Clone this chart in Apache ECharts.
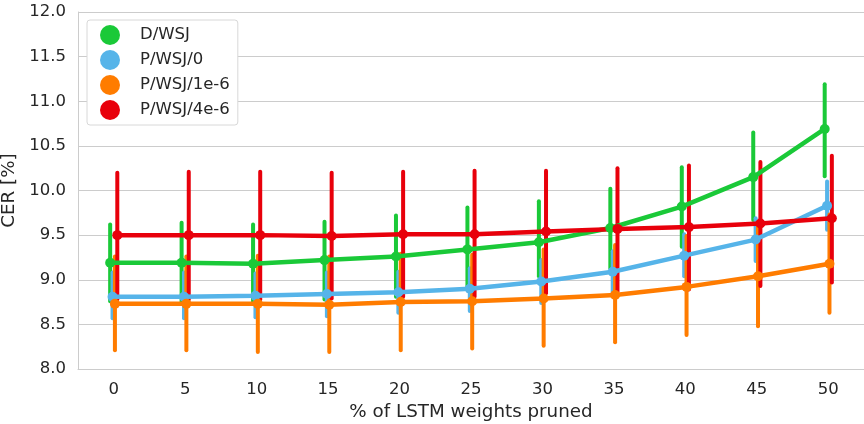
<!DOCTYPE html>
<html>
<head>
<meta charset="utf-8">
<script src="https://cdn.jsdelivr.net/npm/echarts@6/dist/echarts.min.js"></script>
<style>html,body{margin:0;padding:0;background:#fff}#c{width:864px;height:424px}</style>
</head>
<body>
<div id="c"></div>
<script>
const categories = ['0','5','10','15','20','25','30','35','40','45','50'];
const yTicks = [8.0, 8.5, 9.0, 9.5, 10.0, 10.5, 11.0, 11.5, 12.0];
const seriesNames = ['D/WSJ', 'P/WSJ/0', 'P/WSJ/1e-6', 'P/WSJ/4e-6'];
const seriesColors = ['#1ac938', '#56b4e9', '#ff7c00', '#e8000b'];

const dwsjMean = [9.19, 9.19, 9.18, 9.22, 9.26, 9.34, 9.42, 9.58, 9.82, 10.15, 10.69];
const dwsjLow  = [8.76, 8.75, 8.75, 8.78, 8.81, 8.92, 9.04, 9.13, 9.37, 9.67, 10.16];
const dwsjHigh = [9.62, 9.64, 9.62, 9.65, 9.72, 9.81, 9.88, 10.02, 10.26, 10.65, 11.19];

const p0Mean = [8.81, 8.81, 8.82, 8.84, 8.86, 8.90, 8.98, 9.09, 9.27, 9.45, 9.83];
const p0Low  = [8.57, 8.57, 8.58, 8.59, 8.63, 8.65, 8.74, 8.86, 9.04, 9.21, 9.56];
const p0High = [9.08, 9.08, 9.07, 9.08, 9.09, 9.13, 9.22, 9.32, 9.51, 9.69, 10.10];

const p1Mean = [8.73, 8.73, 8.73, 8.72, 8.75, 8.76, 8.79, 8.83, 8.92, 9.04, 9.18];
const p1Low  = [8.21, 8.21, 8.19, 8.19, 8.21, 8.23, 8.26, 8.30, 8.38, 8.48, 8.63];
const p1High = [9.26, 9.26, 9.27, 9.26, 9.29, 9.28, 9.34, 9.39, 9.49, 9.60, 9.73];

const p4Mean = [9.50, 9.50, 9.50, 9.49, 9.51, 9.51, 9.54, 9.57, 9.59, 9.63, 9.69];
const p4Low  = [8.78, 8.78, 8.78, 8.79, 8.81, 8.81, 8.85, 8.87, 8.89, 8.93, 8.97];
const p4High = [10.20, 10.21, 10.21, 10.20, 10.21, 10.22, 10.22, 10.25, 10.28, 10.32, 10.39];

const groups = [
  [dwsjMean, dwsjLow, dwsjHigh],
  [p0Mean, p0Low, p0High],
  [p1Mean, p1Low, p1High],
  [p4Mean, p4Low, p4High]
];
const dodge = 0.1;
const textColor = '#262626';
const gridColor = '#cccccc';
const font = 'DejaVu Sans';

const series = [];
groups.forEach((g, k) => {
  const off = -dodge / 2 + k * dodge / (groups.length - 1);
  const color = seriesColors[k];
  series.push({
    type: 'custom',
    xAxisIndex: 1,
    silent: true,
    renderItem: function (params, api) {
      const p1 = api.coord([api.value(0), api.value(1)]);
      const p2 = api.coord([api.value(0), api.value(2)]);
      return {
        type: 'line',
        shape: { x1: p1[0], y1: p1[1], x2: p2[0], y2: p2[1] },
        style: { stroke: color, lineWidth: 4, lineCap: 'round' }
      };
    },
    encode: { x: 0, y: [1, 2] },
    data: g[0].map((m, i) => [i + off, g[1][i], g[2][i]])
  });
  series.push({
    type: 'line',
    name: seriesNames[k],
    xAxisIndex: 1,
    symbol: 'circle',
    symbolSize: 10,
    lineStyle: { color: color, width: 4.5 },
    itemStyle: { color: color },
    data: g[0].map((m, i) => [i + off, m]),
    animation: false
  });
});

const chart = echarts.init(document.getElementById('c'));
chart.setOption({
  animation: false,
  backgroundColor: '#ffffff',
  textStyle: { fontFamily: font },
  grid: { left: 78, right: 0, top: 12, bottom: 55, containLabel: false, outerBoundsMode: 'none' },
  legend: {
    data: seriesNames.map(n => ({ name: n, icon: 'circle' })),
    orient: 'vertical',
    left: 87,
    top: 20,
    itemWidth: 20,
    itemHeight: 20,
    itemGap: 5,
    padding: [5, 8, 5, 13],
    backgroundColor: '#ffffff',
    borderColor: '#d8d8d8',
    borderWidth: 1,
    borderRadius: 3,
    textStyle: { color: textColor, fontSize: 16.5, fontFamily: font, padding: [0, 0, 0, 15] }
  },
  xAxis: [
    {
      type: 'category',
      data: categories,
      boundaryGap: true,
      axisLine: { show: true, onZero: false, lineStyle: { color: gridColor, width: 1 } },
      axisTick: { show: false },
      splitLine: { show: false },
      axisLabel: { color: textColor, fontSize: 16.5, margin: 12, fontFamily: font },
      name: '% of LSTM weights pruned',
      nameLocation: 'middle',
      nameGap: 30,
      nameTextStyle: { color: textColor, fontSize: 18.3, fontFamily: font }
    },
    {
      type: 'value',
      min: -0.5,
      max: 10.5,
      show: false,
      splitLine: { show: false }
    }
  ],
  yAxis: {
    type: 'value',
    min: yTicks[0],
    max: yTicks[yTicks.length - 1],
    interval: 0.5,
    axisLine: { show: true, onZero: false, lineStyle: { color: gridColor, width: 1 } },
    axisTick: { show: false },
    splitLine: { show: true, lineStyle: { color: gridColor, width: 1 } },
    axisLabel: { color: textColor, fontSize: 16.5, margin: 12, fontFamily: font, formatter: v => v.toFixed(1) },
    name: 'CER [%]',
    nameLocation: 'middle',
    nameRotate: 90,
    nameGap: 50,
    nameTextStyle: { color: textColor, fontSize: 18.3, fontFamily: font }
  },
  series: series
});
</script>
</body>
</html>
